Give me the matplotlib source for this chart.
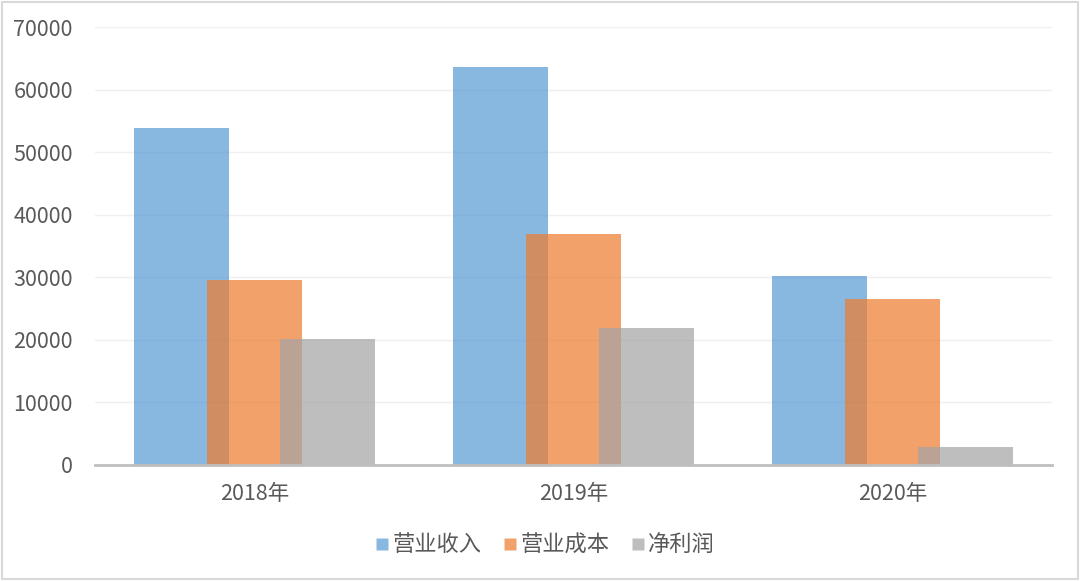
import matplotlib
matplotlib.use("Agg")
import matplotlib.pyplot as plt
import numpy as np
from matplotlib.lines import Line2D

plt.rcParams['font.family'] = ['Noto Sans CJK SC', 'DejaVu Sans']

categories = ['2018年', '2019年', '2020年']
series_names = ['营业收入', '营业成本', '净利润']
revenue = [53900, 63600, 30200]
cost = [29600, 36900, 26500]
profit = [20100, 21900, 2900]
yticks = [0, 10000, 20000, 30000, 40000, 50000, 60000, 70000]

colors = ['#5B9BD5', '#ED7D31', '#A5A5A5']
alpha = 0.72
text_color = '#595959'

fig = plt.figure(figsize=(10.8, 5.81), dpi=100)
fig.patch.set_facecolor('white')
ax = fig.add_axes([0.088, 0.1997, 0.886, 0.7538])

x = np.arange(len(categories))
width = 0.30
offset = 0.229
for i, (vals, c) in enumerate(zip([revenue, cost, profit], colors)):
    ax.bar(x + (i - 1) * offset, vals, width=width, color=c, alpha=alpha,
           linewidth=0, zorder=2 + i)

ax.set_xlim(-0.5, 2.5)
ax.set_ylim(0, 70000)
ax.set_yticks(yticks)
ax.set_yticklabels([str(v) for v in yticks])
ax.set_xticks(x)
ax.set_xticklabels(categories)
ax.grid(axis='y', color='#EFEFEF', linewidth=1.0, zorder=0)
ax.set_axisbelow(True)
for s in ['top', 'right', 'left']:
    ax.spines[s].set_visible(False)
ax.spines['bottom'].set_color('#BFBFBF')
ax.spines['bottom'].set_linewidth(2.0)
ax.spines['bottom'].set_zorder(10)
ax.tick_params(axis='both', length=0, colors=text_color, labelsize=15.5)
ax.tick_params(axis='y', pad=16)
ax.tick_params(axis='x', pad=13)

handles = [Line2D([0], [0], marker='s', linestyle='none', markersize=9,
                  markerfacecolor=c, markeredgecolor='none', alpha=alpha)
           for c in colors]
leg = fig.legend(handles, series_names, loc='center', bbox_to_anchor=(0.505, 0.062),
                 ncol=3, frameon=False, fontsize=16, handlelength=0.6,
                 handletextpad=0.15, columnspacing=1.0)
for t in leg.get_texts():
    t.set_color(text_color)

border = plt.Rectangle((0.002, 0.003), 0.996, 0.994, transform=fig.transFigure,
                       fill=False, edgecolor='#D9D9D9', linewidth=1.5)
fig.patches.append(border)

fig.savefig('out.png', dpi=100)
